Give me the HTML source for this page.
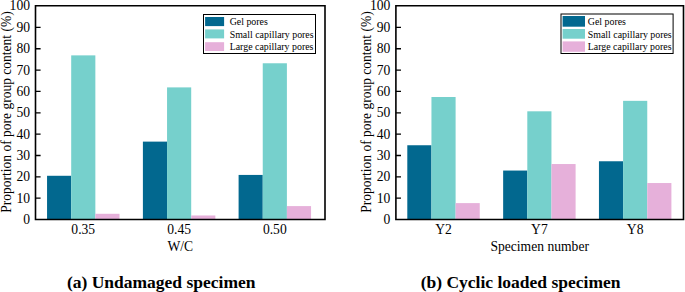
<!DOCTYPE html>
<html><head><meta charset="utf-8"><title>Pore group content</title><style>
html,body{margin:0;padding:0;background:#fff;}
body{width:685px;height:292px;overflow:hidden;}
svg{display:block;}
.t{font-family:"Liberation Serif",serif;font-size:13.6px;fill:#000;}
.l{font-family:"Liberation Serif",serif;font-size:9.9px;fill:#000;}
.c{font-family:"Liberation Serif",serif;font-size:17.5px;font-weight:bold;fill:#000;}
</style></head><body>
<svg width="685" height="292" viewBox="0 0 685 292">
<rect x="47.05" y="175.78" width="24.15" height="43.77" fill="#02688F"/>
<rect x="71.20" y="55.37" width="24.15" height="164.18" fill="#76D0CC"/>
<rect x="95.35" y="213.79" width="24.15" height="5.76" fill="#E6B0DA"/>
<rect x="142.90" y="141.62" width="24.15" height="77.93" fill="#02688F"/>
<rect x="167.05" y="87.39" width="24.15" height="132.16" fill="#76D0CC"/>
<rect x="191.20" y="215.49" width="24.15" height="4.06" fill="#E6B0DA"/>
<rect x="238.60" y="174.93" width="24.15" height="44.62" fill="#02688F"/>
<rect x="262.75" y="63.27" width="24.15" height="156.28" fill="#76D0CC"/>
<rect x="286.90" y="206.10" width="24.15" height="13.45" fill="#E6B0DA"/>
<path d="M35.5 5.7V219.55H325.0V5.7Z" fill="none" stroke="#000" stroke-width="1.6"/>
<path d="M35.5 198.20h5.1M35.5 176.85h5.1M35.5 155.50h5.1M35.5 134.15h5.1M35.5 112.80h5.1M35.5 91.45h5.1M35.5 70.10h5.1M35.5 48.75h5.1M35.5 27.40h5.1" stroke="#000" stroke-width="1.3" fill="none"/>
<text x="30.0" y="224.05" text-anchor="end" class="t">0</text>
<text x="30.0" y="202.70" text-anchor="end" class="t">10</text>
<text x="30.0" y="181.35" text-anchor="end" class="t">20</text>
<text x="30.0" y="160.00" text-anchor="end" class="t">30</text>
<text x="30.0" y="138.65" text-anchor="end" class="t">40</text>
<text x="30.0" y="117.30" text-anchor="end" class="t">50</text>
<text x="30.0" y="95.95" text-anchor="end" class="t">60</text>
<text x="30.0" y="74.60" text-anchor="end" class="t">70</text>
<text x="30.0" y="53.25" text-anchor="end" class="t">80</text>
<text x="30.0" y="31.90" text-anchor="end" class="t">90</text>
<text x="30.0" y="9.75" text-anchor="end" class="t">100</text>
<text x="83.27" y="234.0" text-anchor="middle" class="t">0.35</text>
<text x="179.12" y="234.0" text-anchor="middle" class="t">0.45</text>
<text x="274.82" y="234.0" text-anchor="middle" class="t">0.50</text>
<text x="180.25" y="250.9" text-anchor="middle" class="t">W/C</text>
<text transform="translate(10.50 212.8) rotate(-90)" class="t" style="font-size:13.52px">Proportion of pore group content (%)</text>
<rect x="203.5" y="14.5" width="112.00" height="39.00" fill="#fff" stroke="#000" stroke-width="1"/>
<rect x="205.1" y="17.0" width="19.00" height="9.10" fill="#02688F"/>
<text x="229.7" y="24.9" class="l">Gel pores</text>
<rect x="205.1" y="29.4" width="19.00" height="9.00" fill="#76D0CC"/>
<text x="229.7" y="37.5" class="l">Small capillary pores</text>
<rect x="205.1" y="42.2" width="19.00" height="8.80" fill="#E6B0DA"/>
<text x="229.7" y="50.0" class="l">Large capillary pores</text>
<rect x="407.30" y="145.25" width="24.15" height="74.30" fill="#02688F"/>
<rect x="431.45" y="97.00" width="24.15" height="122.55" fill="#76D0CC"/>
<rect x="455.60" y="203.11" width="24.15" height="16.44" fill="#E6B0DA"/>
<rect x="503.15" y="170.55" width="24.15" height="49.00" fill="#02688F"/>
<rect x="527.30" y="111.31" width="24.15" height="108.24" fill="#76D0CC"/>
<rect x="551.45" y="164.04" width="24.15" height="55.51" fill="#E6B0DA"/>
<rect x="598.95" y="161.26" width="24.15" height="58.29" fill="#02688F"/>
<rect x="623.10" y="100.84" width="24.15" height="118.71" fill="#76D0CC"/>
<rect x="647.25" y="183.04" width="24.15" height="36.51" fill="#E6B0DA"/>
<path d="M395.9 5.7V219.55H683.5V5.7Z" fill="none" stroke="#000" stroke-width="1.6"/>
<path d="M395.9 198.20h5.1M395.9 176.85h5.1M395.9 155.50h5.1M395.9 134.15h5.1M395.9 112.80h5.1M395.9 91.45h5.1M395.9 70.10h5.1M395.9 48.75h5.1M395.9 27.40h5.1" stroke="#000" stroke-width="1.3" fill="none"/>
<text x="390.4" y="224.05" text-anchor="end" class="t">0</text>
<text x="390.4" y="202.70" text-anchor="end" class="t">10</text>
<text x="390.4" y="181.35" text-anchor="end" class="t">20</text>
<text x="390.4" y="160.00" text-anchor="end" class="t">30</text>
<text x="390.4" y="138.65" text-anchor="end" class="t">40</text>
<text x="390.4" y="117.30" text-anchor="end" class="t">50</text>
<text x="390.4" y="95.95" text-anchor="end" class="t">60</text>
<text x="390.4" y="74.60" text-anchor="end" class="t">70</text>
<text x="390.4" y="53.25" text-anchor="end" class="t">80</text>
<text x="390.4" y="31.90" text-anchor="end" class="t">90</text>
<text x="390.4" y="9.75" text-anchor="end" class="t">100</text>
<text x="443.52" y="234.0" text-anchor="middle" class="t">Y2</text>
<text x="539.38" y="234.0" text-anchor="middle" class="t">Y7</text>
<text x="635.18" y="234.0" text-anchor="middle" class="t">Y8</text>
<text x="539.70" y="250.9" text-anchor="middle" class="t">Specimen number</text>
<text transform="translate(370.90 212.8) rotate(-90)" class="t" style="font-size:13.52px">Proportion of pore group content (%)</text>
<rect x="561.0" y="14.0" width="112.10" height="39.50" fill="#fff" stroke="#000" stroke-width="1"/>
<rect x="562.6" y="16.0" width="22.40" height="10.70" fill="#02688F"/>
<text x="587.8" y="24.9" class="l">Gel pores</text>
<rect x="562.6" y="29.0" width="22.40" height="9.70" fill="#76D0CC"/>
<text x="587.8" y="37.5" class="l">Small capillary pores</text>
<rect x="562.6" y="41.4" width="22.40" height="10.40" fill="#E6B0DA"/>
<text x="587.8" y="50.0" class="l">Large capillary pores</text>
<text x="161.2" y="288.0" text-anchor="middle" class="c">(a) Undamaged specimen</text>
<text x="520.6" y="288.0" text-anchor="middle" class="c">(b) Cyclic loaded specimen</text>
</svg>
</body></html>
